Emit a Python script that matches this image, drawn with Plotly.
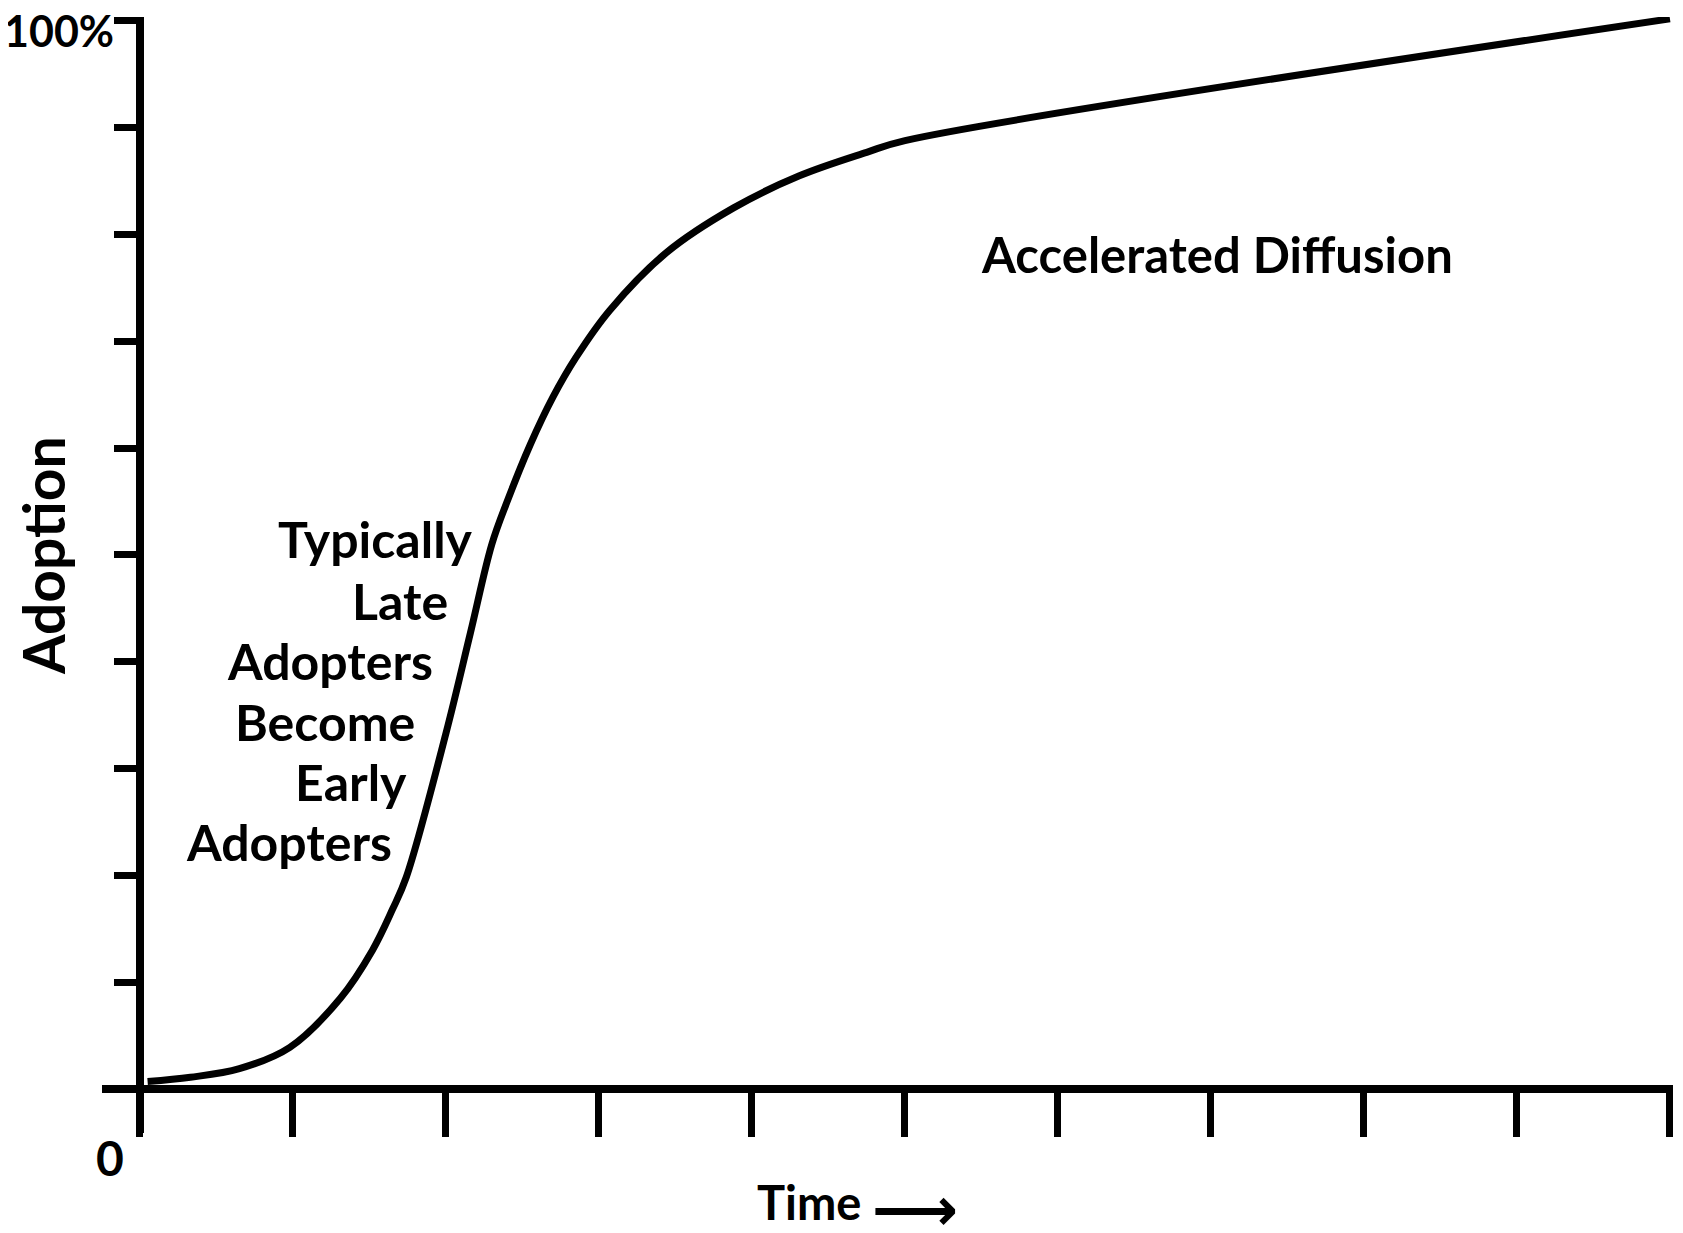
import plotly.graph_objects as go

# ---- data ----
time_vals = [0.05, 0.33, 0.65, 0.98, 1.31, 1.52, 1.65, 1.74, 2.0, 2.16, 2.30, 2.40,
             2.55, 2.70, 2.85, 3.07, 3.44, 3.88, 4.31, 4.75, 5.0, 10.0]
adoption_vals = [0.7, 1.1, 1.9, 3.9, 8.5, 13.0, 16.8, 19.8, 33.3, 42.7, 51.0, 55.0,
                 60.3, 64.8, 68.5, 72.9, 78.3, 82.5, 85.5, 87.7, 88.8, 100.2]
x_tick_vals = list(range(0, 11))
y_tick_vals = list(range(0, 101, 10))
left_lines = ["Typically", "Late", "Adopters", "Become", "Early", "Adopters"]

FONT = "Lato, Roboto, sans-serif"
ARROW_FONT = "DejaVu Sans, sans-serif"

fig = go.Figure()
fig.add_trace(go.Scatter(
    x=time_vals, y=adoption_vals, mode="lines",
    line=dict(color="black", width=7, shape="spline", smoothing=1.0),
    hoverinfo="skip", showlegend=False,
))

# page (browser) geometry; the html body has an 8px margin
OFF = 8
W, H = 1683 - 2 * OFF, 1233 - 2 * OFF
PL, PR, PT, PB = 102, 1673, 17, 1133       # plot area in page pixels
L, T = PL - OFF, PT - OFF
R, B = W - (PR - OFF), H - (PB - OFF)
pw = PR - PL
ph = PB - PT

fig.update_layout(
    width=W, height=H,
    margin=dict(l=L, r=R, t=T, b=B, pad=0),
    paper_bgcolor="white", plot_bgcolor="white",
    font=dict(family=FONT, color="black"),
    xaxis=dict(
        range=[-0.248, 10.02], anchor="free", position=(PB - 1089) / ph,
        showgrid=False, zeroline=False, showline=True, linecolor="black", linewidth=8,
        tickvals=x_tick_vals, ticks="outside", ticklen=44, tickwidth=7, tickcolor="black",
        showticklabels=False, fixedrange=True,
    ),
    yaxis=dict(
        range=[-4.12, 100.37], anchor="free", position=(140 - PL) / pw,
        showgrid=False, zeroline=False, showline=True, linecolor="black", linewidth=8,
        tickvals=y_tick_vals, ticks="outside", ticklen=22, tickwidth=7, tickcolor="black",
        showticklabels=False, fixedrange=True,
    ),
)

def px_x(p):
    return (p - PL) / pw

def px_y(p):
    return (PB - p) / ph

anns = []
def add(text, x, y, size, xanchor="center", yanchor="middle", angle=0, family=FONT):
    anns.append(dict(text=text, xref="paper", yref="paper", x=px_x(x), y=px_y(y),
                     xanchor=xanchor, yanchor=yanchor, showarrow=False, textangle=angle,
                     borderpad=0,
                     font=dict(family=family, size=size, color="black", weight="bold")))

add("100%", 115, 30, 43, xanchor="right")
add("0", 110, 1157, 48)
add("Adoption", 43, 556, 57, angle=-90)
add("Time", 862, 1202, 47, xanchor="right")
add("\u27f6", 915, 1209, 60, family=ARROW_FONT)
add("Accelerated Diffusion", 1217, 254, 49)

right_edges = [474, 449, 434, 416, 408, 393]
centers = [539, 601, 661, 722, 782, 842]
for txt, rx, cy in zip(left_lines, right_edges, centers):
    add(txt, rx, cy, 50, xanchor="right")

fig.update_layout(annotations=anns)
fig.write_html("out.html")
